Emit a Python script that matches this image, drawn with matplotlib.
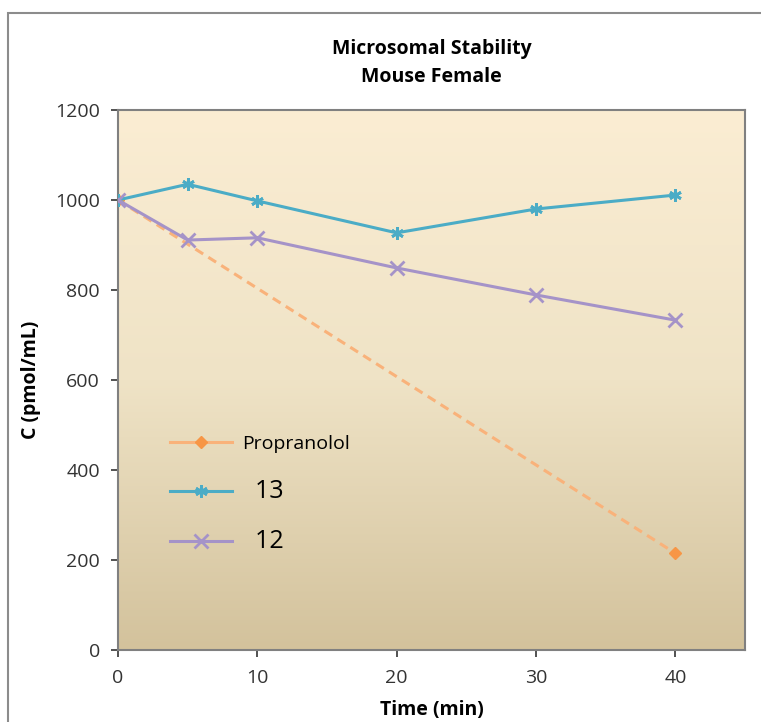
import matplotlib
matplotlib.use("Agg")
import matplotlib.pyplot as plt
from matplotlib.patches import Rectangle
from matplotlib.colors import LinearSegmentedColormap
import numpy as np

plt.rcParams['font.family'] = ['Open Sans', 'DejaVu Sans']

time = [0, 5, 10, 20, 30, 40]
propranolol_t = [0, 40]
propranolol = [1000, 215]
cmpd13 = [1000, 1035, 998, 927, 980, 1011]
cmpd12 = [1000, 911, 916, 849, 789, 733]

fig = plt.figure(figsize=(7.61, 7.22), dpi=100)
fig.patch.set_facecolor('white')
fig.patches.append(Rectangle((8 / 761, -0.02), 1.0, 1 - 13 / 722 + 0.02,
                             transform=fig.transFigure, fill=False,
                             edgecolor='#8c8c8c', linewidth=1.5))

ax = fig.add_axes([118 / 761, 1 - 650 / 722, (745 - 118) / 761, (650 - 110) / 722])

# gradient plot-area fill
cmap = LinearSegmentedColormap.from_list('bg', ['#d3c29c', '#efe3c6', '#fbedd3'])
grad = np.linspace(0, 1, 256).reshape(-1, 1)
ax.imshow(grad, cmap=cmap, aspect='auto', origin='lower',
          extent=[0, 45, 0, 1200], zorder=0)

ax.plot(propranolol_t, propranolol, color='#f9b27a', linestyle=(0, (3, 2)),
        linewidth=2.2, marker='D', markersize=6, markerfacecolor='#f79646',
        markeredgecolor='#f79646', label='Propranolol', zorder=3)
ax.plot(time, cmpd13, color='#4bacc6', linewidth=2.2, marker=(6, 2, 0),
        markersize=9, markeredgewidth=2, label='13', zorder=4)
ax.plot(time, cmpd12, color='#a593c8', linewidth=2.2, marker='x',
        markersize=10, markeredgewidth=2, label='12', zorder=4)

ax.set_xlim(0, 45)
ax.set_ylim(0, 1200)
ax.set_xticks([0, 10, 20, 30, 40])
ax.set_yticks(range(0, 1201, 200))
ax.tick_params(labelsize=14, colors='#333333', length=5, width=1.2,
               direction='out')
ax.tick_params(axis='x', pad=9)
ax.tick_params(axis='y', pad=8)
for s in ax.spines.values():
    s.set_color('#808080')
    s.set_linewidth(1.5)

ax.set_xlabel('Time (min)', fontsize=14, fontweight='bold', labelpad=9)
ax.set_ylabel('C (pmol/mL)', fontsize=14, fontweight='bold', labelpad=10)
ax.set_title('Microsomal Stability\nMouse Female', fontsize=14,
             fontweight='bold', pad=20, linespacing=1.55)

leg = ax.legend(loc='upper left', bbox_to_anchor=(0.055, 0.43), frameon=False,
                fontsize=14, handlelength=3.2, labelspacing=1.3,
                handletextpad=0.5)
leg.get_lines()[0].set_linestyle('-')
texts = leg.get_texts()
texts[1].set_fontsize(18)
texts[2].set_fontsize(18)
texts[1].set_text('  13')
texts[2].set_text('  12')

fig.savefig('out.png', dpi=100)
